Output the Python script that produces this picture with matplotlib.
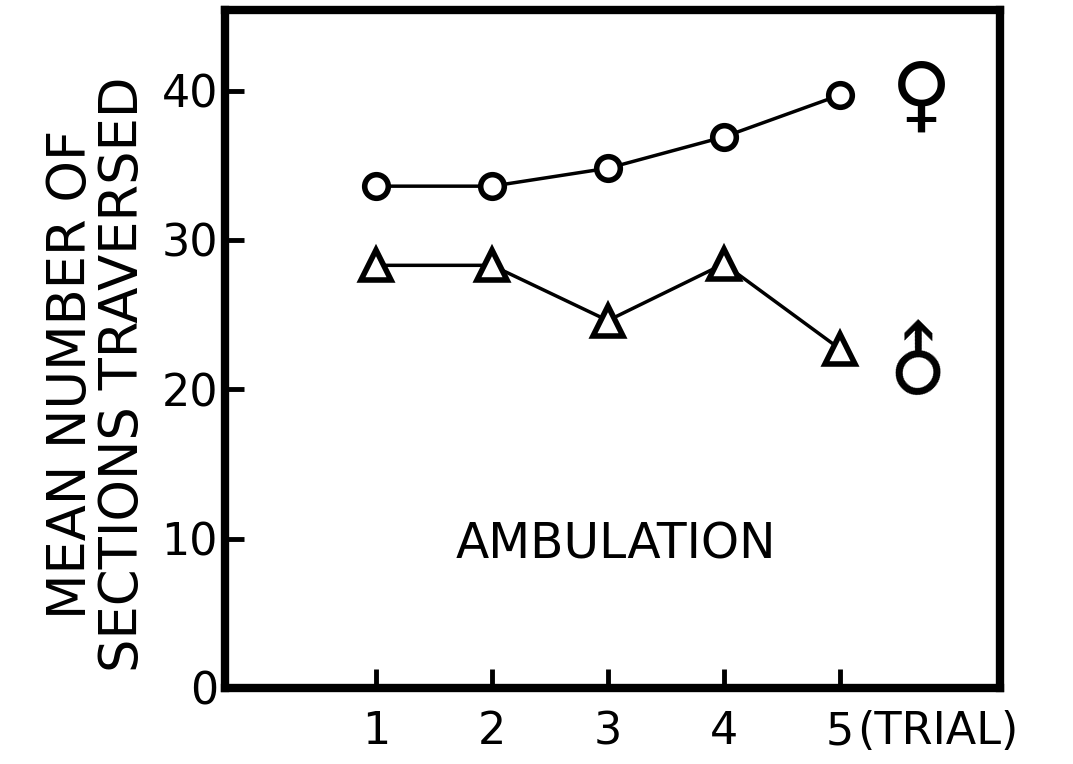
import matplotlib
matplotlib.use('Agg')
import matplotlib.pyplot as plt

trials = [1, 2, 3, 4, 5]
female = [33.6, 33.6, 34.8, 36.9, 39.7]
male = [28.3, 28.3, 24.6, 28.4, 22.7]
yticks = [0, 10, 20, 30, 40]

plt.rcParams['font.family'] = 'DejaVu Sans'

fig = plt.figure(figsize=(10.73, 7.64), dpi=100)
ax = fig.add_axes([0.2097, 0.0995, 0.7223, 0.8875])

ax.plot(trials, female, color='black', lw=2.5, marker='o', ms=17,
        mfc='white', mec='black', mew=4)
ax.plot(trials, male, color='black', lw=2.5, marker='^', ms=22,
        mfc='white', mec='black', mew=4)

ax.set_xlim(-0.3, 6.38)
ax.set_ylim(0, 45.4)

for s in ax.spines.values():
    s.set_linewidth(6)

ax.set_xticks(trials)
ax.set_xticklabels(['1', '2', '3', '4', '5'])
ax.set_yticks(yticks)
ax.tick_params(direction='in', length=14, width=3.5, labelsize=32)
ax.tick_params(axis='x', pad=16)
ax.tick_params(axis='y', pad=5)

ax.annotate('(TRIAL)', xy=(5.15, 0), xycoords=('data', 'axes fraction'),
            xytext=(0, -16), textcoords='offset points',
            ha='left', va='top', fontsize=32)

ax.text(3.07, 9.6, 'AMBULATION', ha='center', va='center', fontsize=35)

ax.text(5.7, 39.5, '\u2640', ha='center', va='center', fontsize=60)
ax.text(5.7, 21.8, '\u2642', ha='center', va='center', fontsize=58,
        rotation=45)

fig.text(0.09, 0.51, 'MEAN NUMBER OF\nSECTIONS TRAVERSED', rotation=90,
         ha='center', va='center', fontsize=38, linespacing=1.0)

fig.savefig('out.png', dpi=100)
